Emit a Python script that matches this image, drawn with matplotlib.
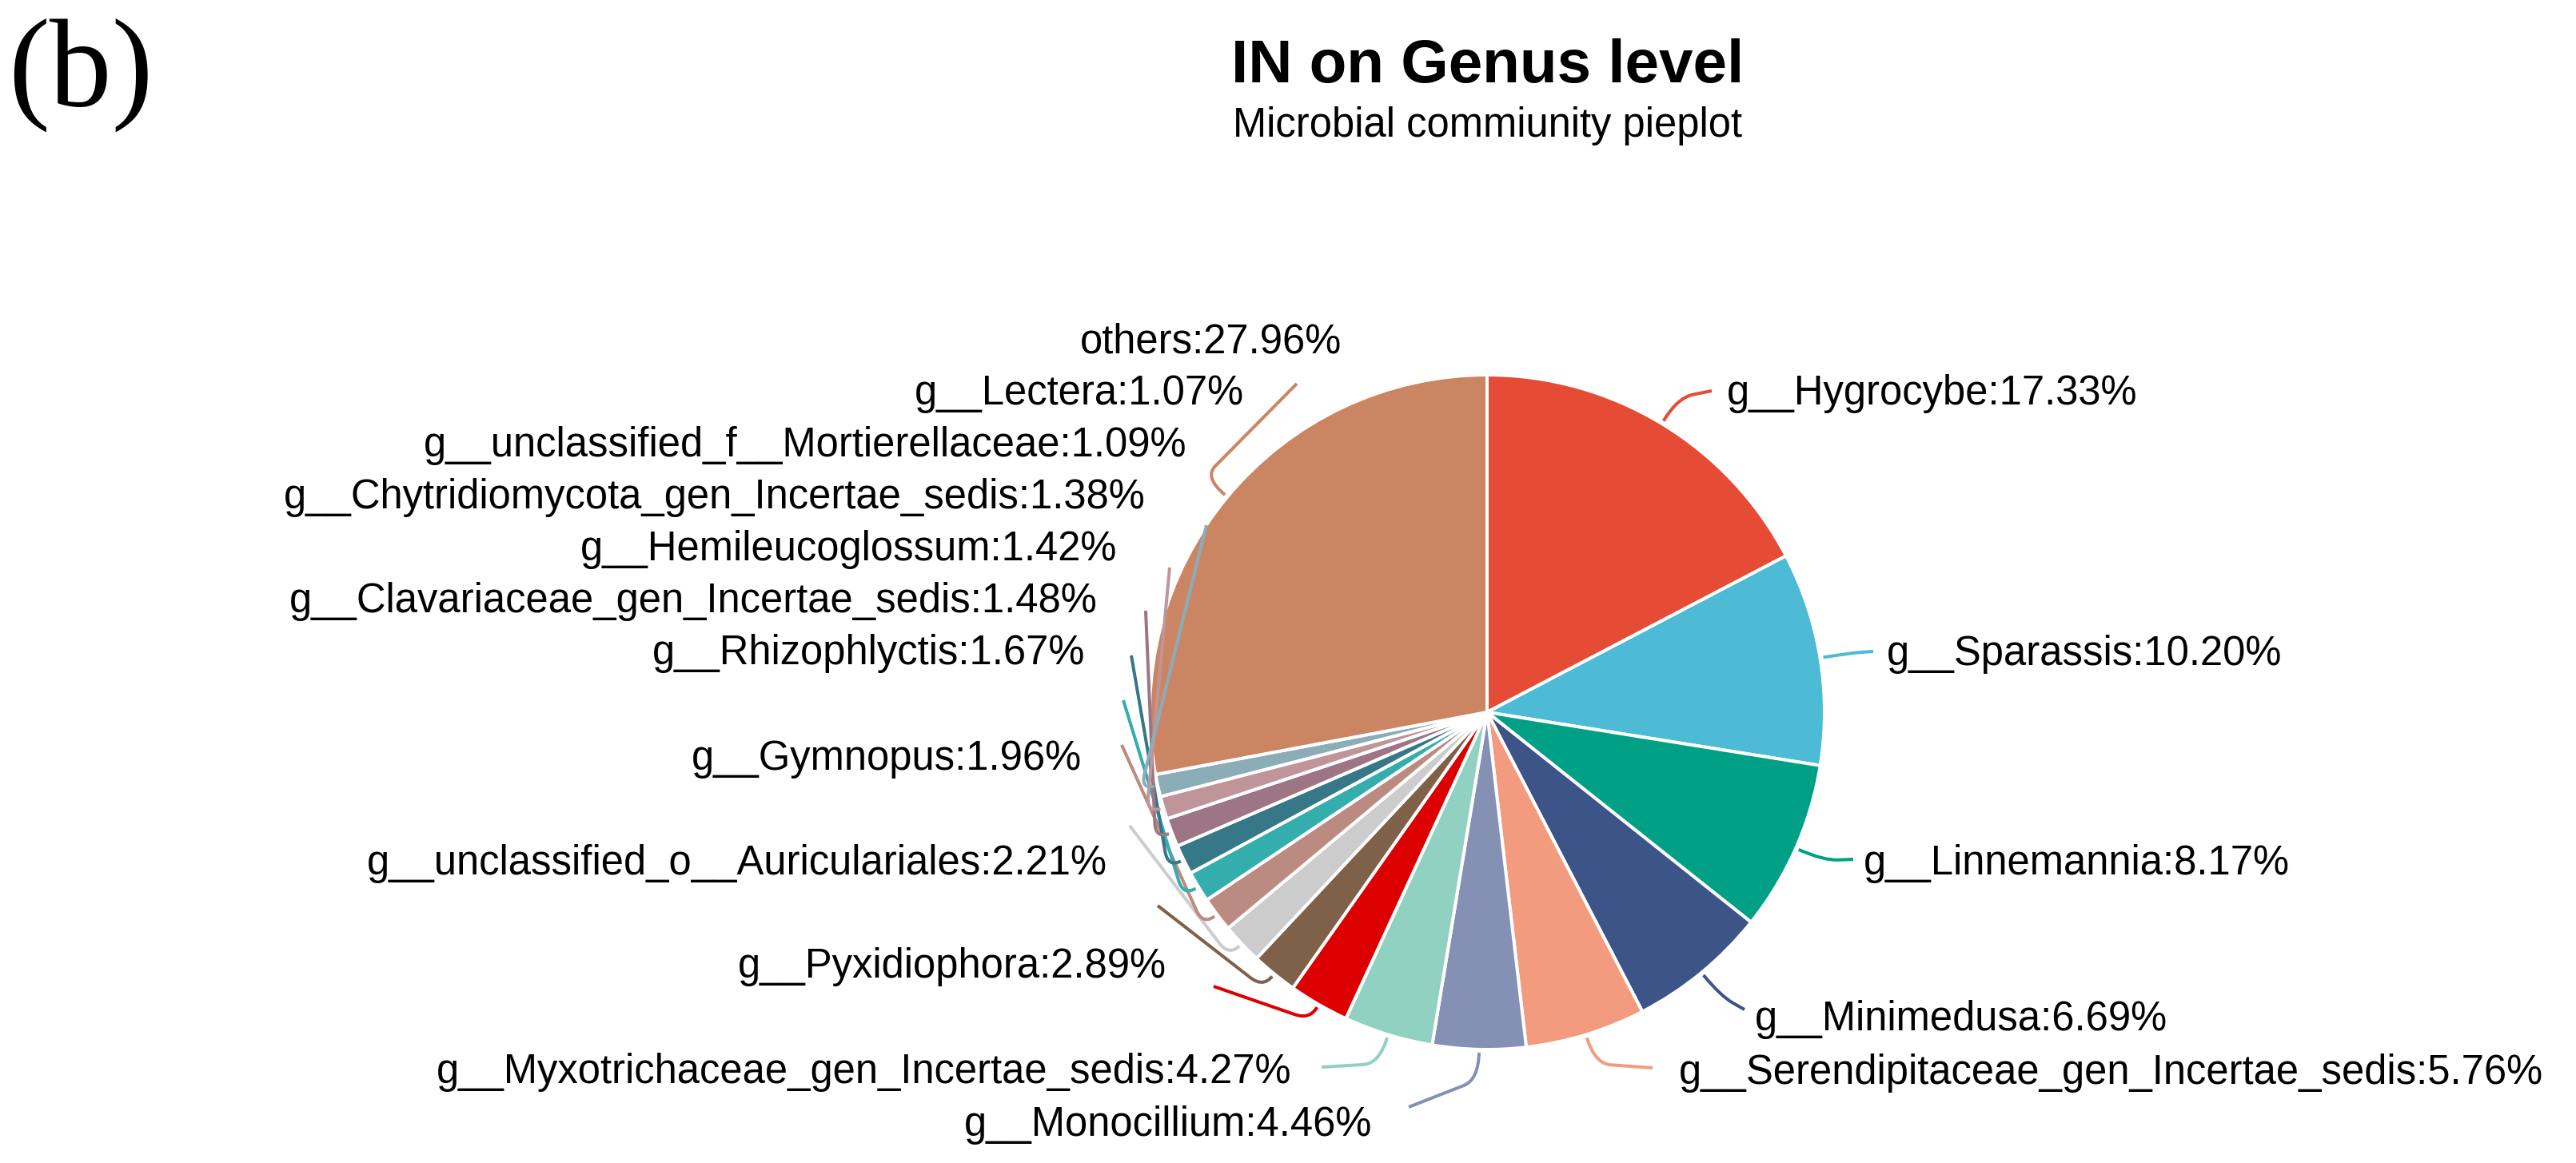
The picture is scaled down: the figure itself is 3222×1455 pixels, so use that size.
import matplotlib
matplotlib.use("Agg")
import matplotlib.pyplot as plt
from matplotlib.path import Path
from matplotlib.patches import PathPatch
import numpy as np

plt.rcParams['font.family'] = ['Liberation Sans', 'DejaVu Sans']

# genus shares (clockwise from 12 o'clock)
genus = ['g__Hygrocybe', 'g__Sparassis', 'g__Linnemannia', 'g__Minimedusa',
         'g__Serendipitaceae_gen_Incertae_sedis', 'g__Monocillium',
         'g__Myxotrichaceae_gen_Incertae_sedis', 'g__Pyxidiophora',
         'g__unclassified_o__Auriculariales', 'g__Gymnopus', 'g__Rhizophlyctis',
         'g__Clavariaceae_gen_Incertae_sedis', 'g__Hemileucoglossum',
         'g__Chytridiomycota_gen_Incertae_sedis',
         'g__unclassified_f__Mortierellaceae', 'g__Lectera', 'others']
percent = [17.33, 10.20, 8.17, 6.69, 5.76, 4.46, 4.27, 2.89, 2.21, 1.96,
           1.67, 1.48, 1.42, 1.38, 1.09, 1.07, 27.96]
colors = ['#E64B35', '#4DBBD5', '#00A087', '#3C5488', '#F39B7F', '#8491B4',
          '#91D1C2', '#DC0000', '#7E6148', '#CCCCCC', '#BB8A80', '#34ADAD',
          '#367888', '#9E7584', '#C09599', '#8AADB8', '#CC8562']

# label layout on the 3222x1455 canvas (pixels, y from top)
label_ha = ['left'] * 5 + ['right'] * 12
label_x = [2160, 2360, 2331, 2195, 2100, 1716, 1615, 1459, 1385, 1353, 1357,
           1373, 1397, 1433, 1484, 1556, 1678]
label_y = [487, 813, 1075, 1270, 1337, 1402, 1336, 1204, 1075, 944, 812,
           747, 682, 617, 552, 487, 422]
line_end = [(2141, 489), (2343, 815), (2318, 1075), (2182, 1263), (2067, 1336),
            (1762, 1385), (1653, 1335), (1518, 1234), (1448, 1133), (1413, 1033),
            (1403, 932), (1405, 876), (1415, 820), (1433, 764), (1463, 710),
            (1509, 657), (1622, 480)]

W, H = 3222, 1455
cx, cy, R = 1860, 891, 422

fig = plt.figure(figsize=(W / 100, H / 100), dpi=100)
ax = fig.add_axes([0, 0, 1, 1])

# y axis is flipped, so start at -90 and go "counterclock" to get clockwise from top
ax.pie(percent, colors=colors, startangle=-90, counterclock=True, radius=R,
       center=(cx, cy), wedgeprops=dict(edgecolor='white', linewidth=2.9))
ax.set_xlim(0, W)
ax.set_ylim(H, 0)
ax.set_aspect('equal')
ax.axis('off')

frac = np.array(percent) / np.sum(percent)
mids = np.cumsum(frac) - frac / 2
for i, name in enumerate(genus):
    th = 2 * np.pi * mids[i]
    u = np.array([np.sin(th), -np.cos(th)])
    k = 38 if percent[i] > 3 else 22
    p0 = np.array([cx, cy]) + (R + 4) * u
    knee = np.array([cx, cy]) + (R + k) * u
    end = np.array(line_end[i], dtype=float)
    d = end - knee
    hook = knee + d / np.hypot(*d) * min(20, 0.5 * np.hypot(*d))
    path = Path([p0, knee, hook, end],
                [Path.MOVETO, Path.CURVE3, Path.CURVE3, Path.LINETO])
    ax.add_patch(PathPatch(path, fill=False, edgecolor=colors[i], lw=2.9,
                           capstyle='butt', joinstyle='round', zorder=3))
    ax.text(label_x[i], label_y[i], f"{name}:{percent[i]:.2f}%", ha=label_ha[i],
            va='center_baseline', fontsize=36.5, color='black')

fig.text(1861 / W, 1 - 103 / H, 'IN on Genus level', ha='center', va='baseline',
         fontsize=55, fontweight='bold')
fig.text(1861 / W, 1 - 171 / H, 'Microbial commiunity pieplot', ha='center',
         va='baseline', fontsize=36.5)
fig.text(10 / W, 1 - 133 / H, '(b)', ha='left', va='baseline', fontsize=112,
         family='Liberation Serif')

fig.savefig('out.png', dpi=100, facecolor='white')
